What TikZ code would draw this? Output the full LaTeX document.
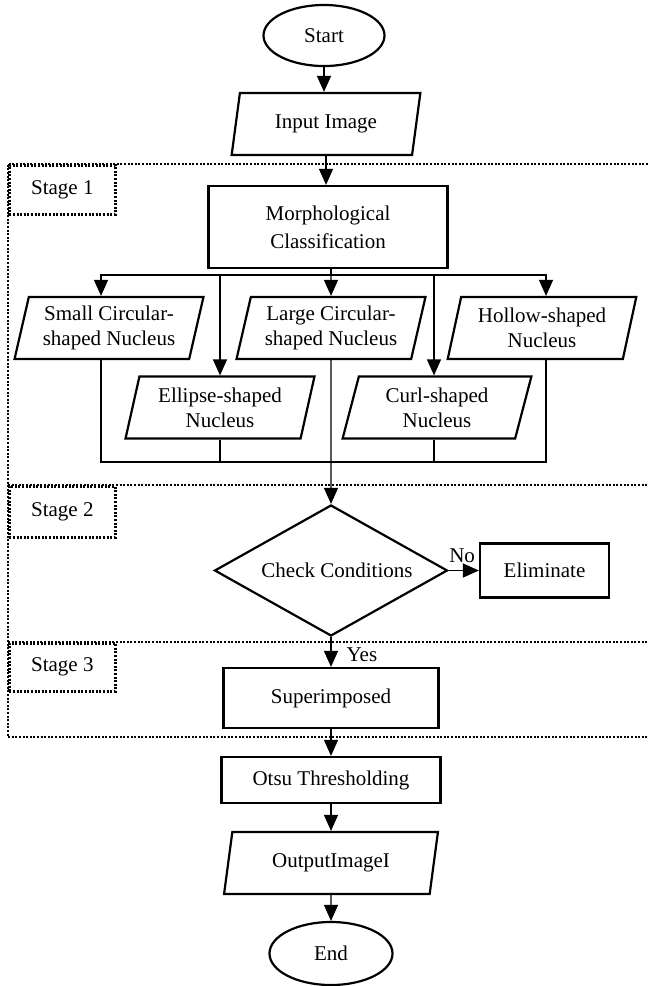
\documentclass[tikz,border=0pt]{standalone}
\usepackage{fontspec}
\setmainfont{Liberation Serif}
\usetikzlibrary{shapes.geometric, arrows.meta, positioning}

\begin{document}
\begin{tikzpicture}[
      x=1pt, y=1pt,
      every node/.style={font=\fontsize{21}{25}\selectfont},
      terminal/.style={ellipse, draw, line width=2.2pt, minimum width=121pt, minimum height=61pt, inner sep=0pt},
      io/.style={trapezium, trapezium left angle=75, trapezium right angle=105, trapezium stretches=true, draw, line width=2.2pt, minimum width=189pt, minimum height=62pt, inner sep=0pt, align=center},
      process/.style={rectangle, draw, line width=2.2pt, align=center},
      decision/.style={diamond, draw, line width=2.2pt, minimum width=233pt, minimum height=131pt, inner sep=0pt, aspect=1.8},
      stage line/.style={line width=2.6pt, dash pattern=on 2pt off 1.6pt},
      stagebox/.style={rectangle, draw, stage line, minimum width=106pt, anchor=north west},
      arrow/.style={-{Triangle[length=16pt, width=14pt]}, line width=1.3pt},
      link/.style={line width=1.3pt}
    ]
    \useasboundingbox (0,0) rectangle (648,-986);

    % Stage frames
    \draw[stage line] (648,-164) -- (8,-164) -- (8,-737) -- (648,-737);
    \draw[stage line] (8,-485) -- (648,-485);
    \draw[stage line] (8,-642) -- (648,-642);
    \node[stagebox, minimum height=49pt] (stage1) at (8,-164) {Stage 1};
    \node[stagebox, minimum height=51pt] (stage2) at (8,-485) {Stage 2};
    \node[stagebox, minimum height=48pt] (stage3) at (8,-642) {Stage 3};

    % Nodes
    \node[terminal] (start) at (324,-35.5) {Start};
    \node[io] (input) at (326,-124) {Input Image};
    \node[process, minimum width=239pt, minimum height=82pt] (morph) at (328,-227) {Morphological\\[3pt]Classification};

    \node[io] (small) at (109,-328) {Small Circular-\\shaped Nucleus};
    \node[io] (large) at (331,-328) {Large Circular-\\shaped Nucleus};
    \node[io] (hollow) at (542,-328) {Hollow-shaped\\Nucleus};
    \node[io] (elliptic) at (220,-407.5) {Ellipse-shaped\\Nucleus};
    \node[io] (curl) at (437,-407.5) {Curl-shaped\\Nucleus};

    \node[decision] (check) at (331,-570.5) {\hspace{12pt}Check Conditions};
    \node[process, minimum width=129pt, minimum height=54pt] (elim) at (544.5,-570.5) {Eliminate};
    \node[process, minimum width=215pt, minimum height=60pt] (super) at (331,-698) {Superimposed};
    \node[process, minimum width=219pt, minimum height=46pt] (otsu) at (331,-780) {Otsu Thresholding};
    \node[io, minimum width=214pt] (output) at (331,-863) {OutputImageI};
    \node[terminal, minimum width=123pt, minimum height=63pt] (stop) at (331,-953.5) {End};

    % Arrows
    \draw[arrow] (start) -- (start |- input.north);
    \draw[arrow] (input.south) -- (input.south |- morph.north);

    \coordinate (split) at (331,-275);
    \draw[link] (morph.south -| split) -- (split);
    \draw[arrow] (split) -| ([xshift=-8pt]small.north);
    \draw[arrow] (split) -| (elliptic.north);
    \draw[arrow] (split) -- (large.north);
    \draw[arrow] (split) -| ([xshift=-3pt]curl.north);
    \draw[arrow] (split) -| ([xshift=4pt]hollow.north);

    \coordinate (merge) at (331,-462);
    \draw[link] ([xshift=-8pt]small.south) |- (merge);
    \draw[link] (elliptic.south) |- (merge);
    \draw[link] ([xshift=-3pt]curl.south) |- (merge);
    \draw[link] ([xshift=4pt]hollow.south) |- (merge);
    \draw[arrow] (large.south) -- (check.north);

    \draw[arrow] (check.east) -- node[pos=0, anchor=south west, inner sep=0pt, yshift=7pt] {No} (elim.west);
    \draw[arrow] (check.south) -- node[pos=.6, right, inner sep=0pt, xshift=15pt] {Yes} (super.north);
    \draw[arrow] (super) -- (otsu);
    \draw[arrow] (otsu) -- (output);
    \draw[arrow] (output) -- (stop);

    \end{tikzpicture}
\end{document}
